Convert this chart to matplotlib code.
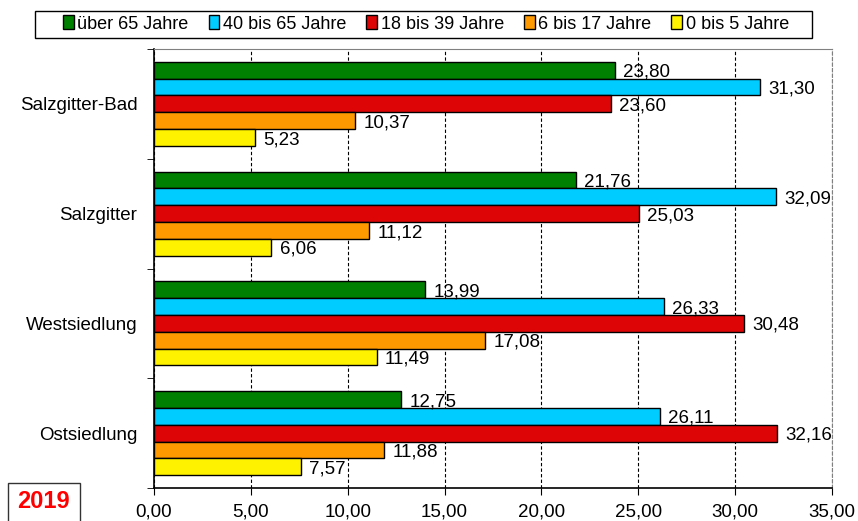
import matplotlib.pyplot as plt
from matplotlib.patches import Rectangle
import numpy as np

plt.rcParams['font.family'] = ['Liberation Sans', 'DejaVu Sans']

# Anteile der Altersgruppen je Ortsteil (in %)
orte = ['Salzgitter-Bad', 'Salzgitter', 'Westsiedlung', 'Ostsiedlung']
gruppen = ['über 65 Jahre', '40 bis 65 Jahre', '18 bis 39 Jahre', '6 bis 17 Jahre', '0 bis 5 Jahre']
ueber_65 = [23.80, 21.76, 13.99, 12.75]
j40_65 = [31.30, 32.09, 26.33, 26.11]
j18_39 = [23.60, 25.03, 30.48, 32.16]
j6_17 = [10.37, 11.12, 17.08, 11.88]
j0_5 = [5.23, 6.06, 11.49, 7.57]
farben = ['#008000', '#00CCFF', '#DD0505', '#FF9900', '#FFF200']
jahr = '2019'

werte = [ueber_65, j40_65, j18_39, j6_17, j0_5]

fig = plt.figure(figsize=(8.58, 5.21), dpi=100)
ax = fig.add_axes([154 / 858, 1 - 488 / 521, 678 / 858, 439 / 521])

pos = np.arange(len(orte))
h = 0.153
for k, (serie, farbe, name) in enumerate(zip(werte, farben, gruppen)):
    y = pos + (k - 2) * h
    ax.barh(y, serie, height=h, color=farbe, edgecolor='black', linewidth=1,
            label=name, zorder=3)
    for yy, v in zip(y, serie):
        ax.annotate(f'{v:.2f}'.replace('.', ','), (v, yy), xytext=(6, -1.5),
                    textcoords='offset points', va='center', ha='left',
                    fontsize=13.5, zorder=4)

ax.set_ylim(len(orte) - 0.5, -0.5)
ax.set_xlim(0, 35)
ax.set_xticks(np.arange(0, 36, 5))
ax.set_xticklabels([f'{t:.2f}'.replace('.', ',') for t in np.arange(0, 36, 5)], fontsize=13.5)
ax.set_yticks(pos)
ax.set_yticklabels(orte, fontsize=13.5)
ax.set_yticks(np.arange(-0.5, len(orte), 1), minor=True)
ax.tick_params(axis='y', which='major', length=0, pad=12)
ax.tick_params(axis='y', which='minor', length=5, direction='out')
ax.tick_params(axis='x', length=5, direction='out', pad=6)

ax.grid(axis='x', color='black', linestyle=(0, (3, 2)), linewidth=0.8, zorder=0)
ax.spines['top'].set_color('#808080')
ax.spines['right'].set_color('#808080')
ax.spines['right'].set_linestyle((0, (3, 2)))
ax.spines['left'].set_linewidth(1.2)
ax.spines['bottom'].set_linewidth(1.2)

# Legende ohne eigenen Rahmen, Rahmen separat gezeichnet
fig.legend(loc='center', bbox_to_anchor=(426 / 858, 1 - 24 / 521), ncol=5,
           fontsize=13, frameon=False,
           handlelength=0.6, handleheight=0.8, handletextpad=0.2,
           columnspacing=1.1, borderpad=0.2)
fig.add_artist(Rectangle((35 / 858, 1 - 38 / 521), 777 / 858, 27 / 521,
                         transform=fig.transFigure, facecolor='none',
                         edgecolor='black', linewidth=1))

# Jahreskennung unten links
fig.add_artist(Rectangle((8 / 858, -0.01), 72 / 858, 38 / 521 + 0.01,
                         transform=fig.transFigure, facecolor='white',
                         edgecolor='#333333', linewidth=1))
fig.text(43 / 858, 1 - 501 / 521, jahr, color='#FF0000', fontsize=17,
         fontweight='bold', ha='center', va='center')

fig.savefig('out.png', dpi=100)
